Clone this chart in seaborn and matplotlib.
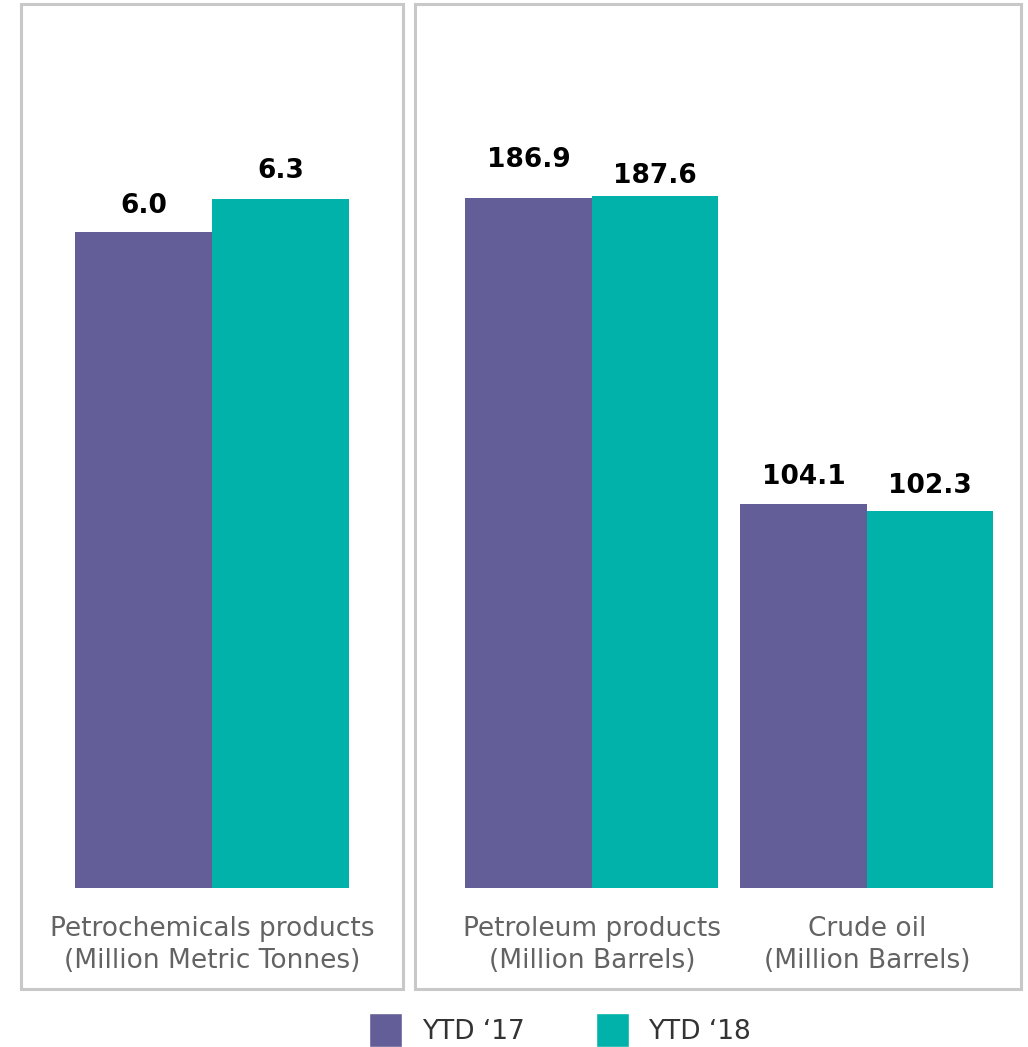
#!/usr/bin/env python

import matplotlib
matplotlib.use("Agg")
import matplotlib.pyplot as plt
import matplotlib.patches as mpatches
import seaborn as sns
import pandas as pd

sns.set_style("white")
plt.rcParams['font.family'] = 'sans-serif'
plt.rcParams['font.sans-serif'] = ['DejaVu Sans']

# data
years = ["YTD \u201817", "YTD \u201818"]
left_categories = ["Petrochemicals products\n(Million Metric Tonnes)"]
left_ytd17 = [6.0]
left_ytd18 = [6.3]
right_categories = ["Petroleum products\n(Million Barrels)", "Crude oil\n(Million Barrels)"]
right_ytd17 = [186.9, 104.1]
right_ytd18 = [187.6, 102.3]

PURPLE = "#635E97"
TEAL = "#00B2AA"
GRAY_TEXT = "#636363"
BOX = "#C8C8C8"

W, H = 1028, 1047


def make_df(cats, a, b):
    rows = []
    for c, v in zip(cats, a):
        rows.append({"cat": c, "year": years[0], "val": v})
    for c, v in zip(cats, b):
        rows.append({"cat": c, "year": years[1], "val": v})
    return pd.DataFrame(rows)


def fig_rect(x0, y0, x1, y1):
    # pixel box -> figure fraction
    return [x0 / W, 1 - y1 / H, (x1 - x0) / W, (y1 - y0) / H]


def draw_panel(ax, df, width, xlim, ylim, label_shift):
    sns.barplot(data=df, x="cat", y="val", hue="year", palette=[PURPLE, TEAL],
                width=width, saturation=1, legend=False, ax=ax, edgecolor="none")
    ax.set_xlim(*xlim)
    ax.set_ylim(*ylim)
    for s in ax.spines.values():
        s.set_visible(False)
    ax.set_yticks([])
    ax.set_xlabel("")
    ax.set_ylabel("")
    ax.tick_params(axis="x", length=0, pad=20, labelsize=19, labelcolor=GRAY_TEXT)
    for lab in ax.get_xticklabels():
        lab.set_linespacing(1.3)
    ax.patch.set_alpha(0)
    bars = []
    for cont in ax.containers:
        bars.extend(list(cont))
    # order bars by x position
    bars.sort(key=lambda p: p.get_x())
    for p, dy in zip(bars, label_shift):
        v = p.get_height()
        ax.annotate(f"{v:.1f}", (p.get_x() + p.get_width() / 2, v),
                    xytext=(0, dy), textcoords="offset pixels",
                    ha="center", va="center", fontsize=19,
                    fontweight="bold", color="black")


def main():
    fig = plt.figure(figsize=(W / 100, H / 100), dpi=100)

    # panel boxes
    for x0, x1 in [(21, 403), (415, 1021)]:
        l, b, w, h = fig_rect(x0, 4, x1, 989)
        fig.patches.append(mpatches.Rectangle((l, b), w, h, transform=fig.transFigure,
                                              facecolor="none", edgecolor=BOX, lw=2.2))

    ax1 = fig.add_axes(fig_rect(22, 5, 402, 888))
    draw_panel(ax1, make_df(left_categories, left_ytd17, left_ytd18),
               0.72, (-0.5, 0.5), (0, 883 / 109.4), [26, 28])

    ax2 = fig.add_axes(fig_rect(417, 5, 1022, 888))
    draw_panel(ax2, make_df(right_categories, right_ytd17, right_ytd18),
               0.92, (-0.636, 1.564), (0, 883 / 3.69), [38, 20, 27, 25])

    handles = [mpatches.Patch(facecolor=PURPLE, label=years[0]),
               mpatches.Patch(facecolor=TEAL, label=years[1])]
    fig.legend(handles=handles, loc="center", bbox_to_anchor=(560 / W, 1 - 1030 / H),
               ncol=2, frameon=False, fontsize=19, labelcolor="#333333",
               handlelength=1.25, handleheight=1.6, handletextpad=0.75,
               columnspacing=2.7, borderaxespad=0)

    fig.savefig("out.png", dpi=100)


if __name__ == "__main__":
    main()
